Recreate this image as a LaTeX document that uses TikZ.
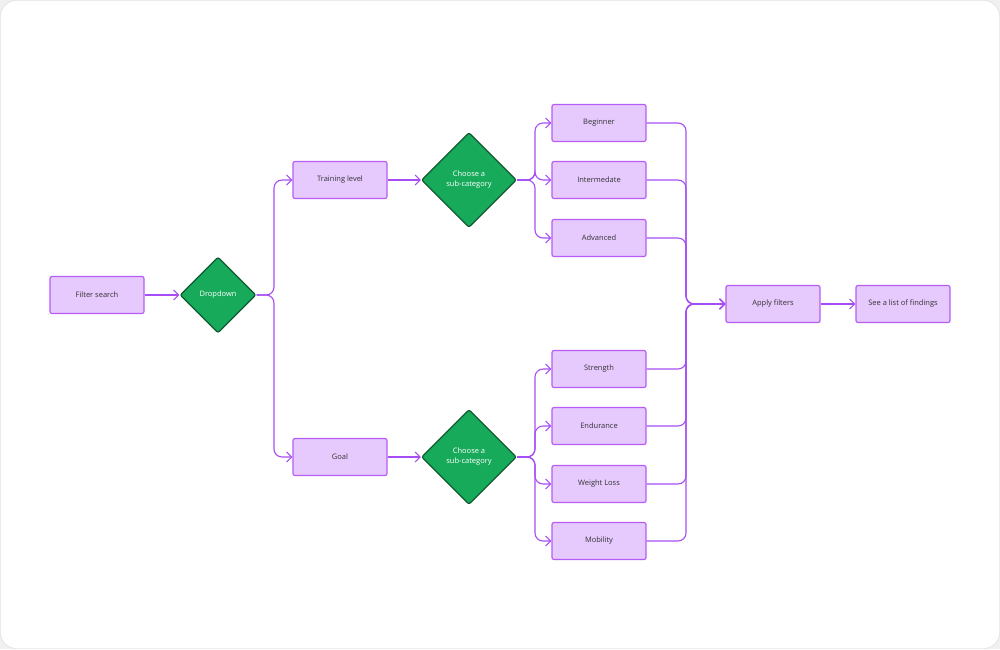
\documentclass[tikz,border=0pt]{standalone}
\usepackage{fontspec}
\setmainfont{Open Sans}
\usetikzlibrary{arrows.meta,shapes.geometric}
\definecolor{boxfill}{HTML}{E6C9FD}
\definecolor{boxline}{HTML}{B85CF6}
\definecolor{flow}{HTML}{A64DF5}
\definecolor{decfill}{HTML}{17AA5A}
\definecolor{decline}{HTML}{0F5A30}
\definecolor{txt}{HTML}{333333}
\tikzset{
  stepbox/.style={draw=boxline,fill=boxfill,line width=1.2pt,rounded corners=2pt,
    minimum width=94pt,minimum height=37pt,inner sep=0pt,text=txt,
    font=\fontsize{7.5}{9}\selectfont},
  choice/.style={draw=decline,fill=decfill,line width=1.2pt,diamond,aspect=1,
    inner sep=0pt,text=white,align=center,rounded corners=2pt,
    minimum width=#1,minimum height=#1,
    font=\fontsize{7.5}{10}\selectfont},
  link/.style={draw=flow,line width=1.1pt,rounded corners=8pt,
    -{Straight Barb[length=5pt,width=10pt]}},
}
\begin{document}
\begin{tikzpicture}[x=1pt,y=-1pt]
  \useasboundingbox (0,0) rectangle (1000,649);
  \fill[gray!12] (0,0) rectangle (1000,649);
  \draw[gray!30,fill=white,rounded corners=16pt] (0.5,0.5) rectangle (999.5,648.5);

  % boxes
  \node[stepbox] (search) at (97,295) {Filter search};
  \node[choice=76pt] (drop) at (218,295) {Dropdown};
  \node[stepbox] (level) at (340,180) {Training level};
  \node[stepbox] (goal) at (340,457) {Goal};
  \node[choice=95pt] (sub1) at (469,180) {Choose a\\sub-category};
  \node[choice=95pt] (sub2) at (469,457) {Choose a\\sub-category};
  \node[stepbox] (beg) at (599,123) {Beginner};
  \node[stepbox] (inter) at (599,180) {Intermedate};
  \node[stepbox] (adv) at (599,238) {Advanced};
  \node[stepbox] (str) at (599,369) {Strength};
  \node[stepbox] (endu) at (599,426) {Endurance};
  \node[stepbox] (wl) at (599,484) {Weight Loss};
  \node[stepbox] (mob) at (599,541) {Mobility};
  \node[stepbox] (apply) at (773,304) {Apply filters};
  \node[stepbox] (list) at (903,304) {See a list of findings};

  % connectors
  \draw[link] (search) -- (drop);
  \draw[link] (drop.east) -- (274,295) |- (level.west);
  \draw[link] (drop.east) -- (274,295) |- (goal.west);
  \draw[link] (level) -- (sub1);
  \draw[link] (goal) -- (sub2);
  \foreach \t in {beg,inter,adv}
    \draw[link] (sub1.east) -- (535,180) |- (\t.west);
  \foreach \t in {str,endu,wl,mob}
    \draw[link] (sub2.east) -- (535,457) |- (\t.west);
  \foreach \s in {beg,inter,adv,str,endu,wl,mob}
    \draw[link] (\s.east) -| (686,304) -- (apply.west);
  \draw[link] (apply) -- (list);
\end{tikzpicture}
\end{document}
